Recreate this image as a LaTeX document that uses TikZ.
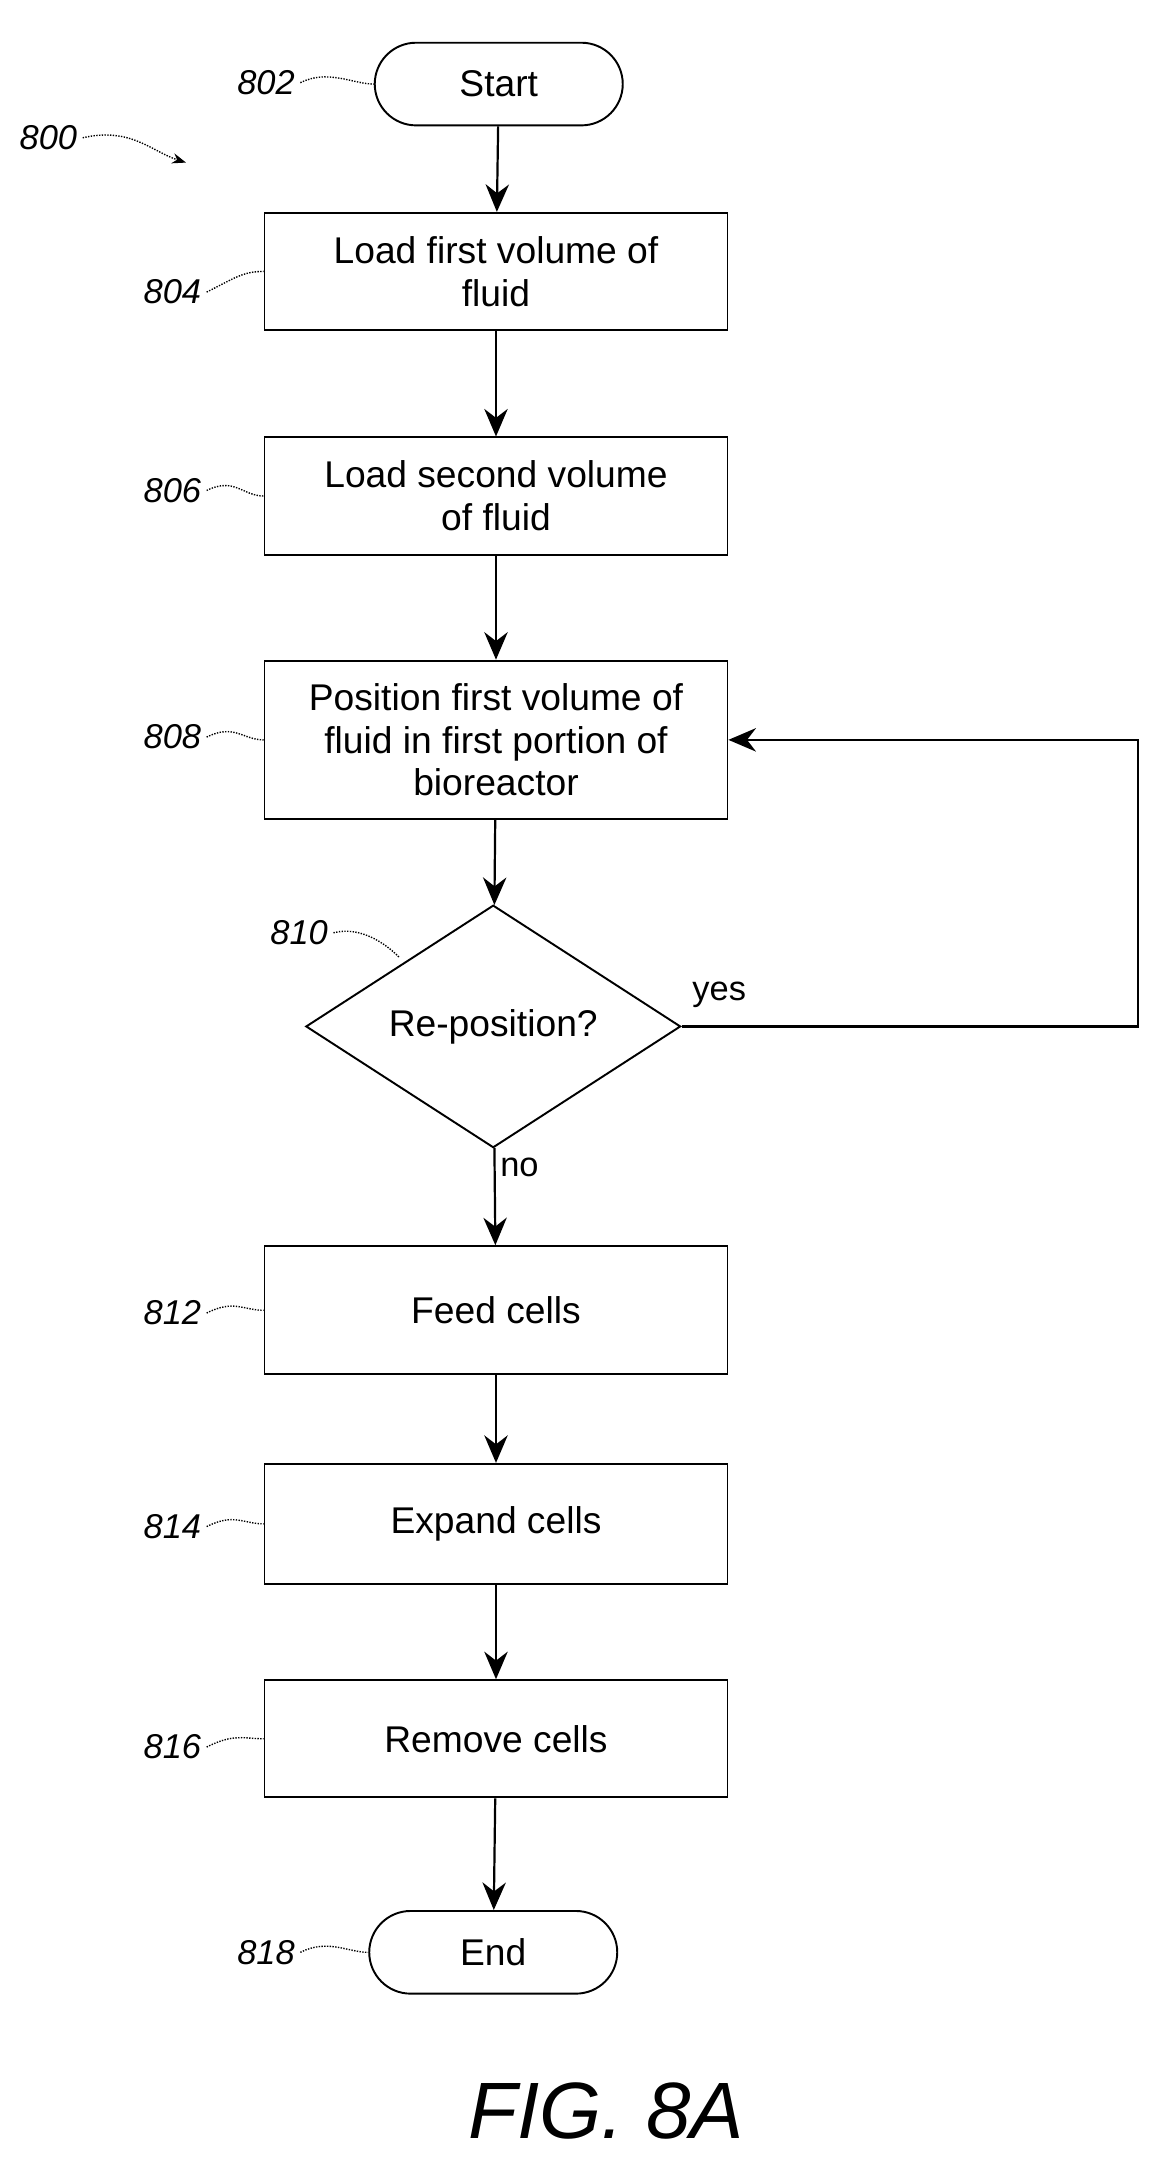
\documentclass[tikz,border=0pt]{standalone}
\usepackage{fontspec}
\setmainfont{Liberation Sans}
\usetikzlibrary{positioning, arrows.meta, shapes.geometric}

\begin{document}
\begin{tikzpicture}[
      x=1pt, y=-1pt,
      box/.style={
        rectangle,
        draw,
        minimum width=336pt,
        minimum height=85pt,
        align=center,
        font=\fontsize{27}{31}\selectfont
      },
      term/.style={
        rectangle,
        draw,
        rounded corners=30pt,
        minimum width=180pt,
        minimum height=60pt,
        font=\fontsize{27}{31}\selectfont
      },
      dec/.style={
        diamond,
        draw,
        aspect=1.55,
        inner sep=2pt,
        minimum width=272pt,
        minimum height=176pt,
        font=\fontsize{27}{31}\selectfont
      },
      ref/.style={font=\itshape\fontsize{25}{29}\selectfont},
      lead/.style={draw, densely dotted, line width=1pt},
      >={Stealth[length=20pt, width=17pt]},
      every edge/.style={draw, line width=1.6pt, ->},
      line width=1.4pt
    ]
    \useasboundingbox (0,0) rectangle (850,1583);

    % Nodes
    \node[term] (start) at (362,61) {Start};
    \node[box] (load1) at (360,197) {Load first volume of\\fluid};
    \node[box] (load2) at (360,360) {Load second volume\\of fluid};
    \node[box, minimum height=115pt] (pos) at (360,537) {Position first volume of\\fluid in first portion of\\bioreactor};
    \node[dec] (rep) at (358,745) {Re-position?};
    \node[box, minimum height=93pt] (feed) at (360,951) {Feed cells};
    \node[box, minimum height=87pt] (expand) at (360,1106) {Expand cells};
    \node[box] (remove) at (360,1262) {Remove cells};
    \node[term] (stop) at (358,1417) {End};
    \node[font=\itshape\fontsize{58}{64}\selectfont] (fig) at (440,1532) {FIG. 8A};

    % Reference numerals
    \node[ref, anchor=east] (r800) at (60,100) {800};
    \node[ref, anchor=east] (r802) at (218,60) {802};
    \node[ref, anchor=east] (r804) at (150,212) {804};
    \node[ref, anchor=east] (r806) at (150,356) {806};
    \node[ref, anchor=east] (r808) at (150,535) {808};
    \node[ref, anchor=east] (r810) at (242,677) {810};
    \node[ref, anchor=east] (r812) at (150,953) {812};
    \node[ref, anchor=east] (r814) at (150,1108) {814};
    \node[ref, anchor=east] (r816) at (150,1268) {816};
    \node[ref, anchor=east] (r818) at (218,1417) {818};
    \coordinate (c800) at (135,118);
    \draw[lead, -{Stealth[length=10pt]}] (r800.east) .. controls (95,92) and (110,110) .. (c800);
    \foreach \r/\n in {r802/start, r804/load1, r806/load2, r808/pos, r812/feed, r814/expand, r816/remove, r818/stop}
      \draw[lead] (\r.east) .. controls +(20,-10) and +(-15,0) .. (\n.west);
    \draw[lead] (r810.east) .. controls +(20,-5) and +(-10,-10) .. (290,695);

    % Arrows
    \path (start) edge (load1)
          (load1) edge (load2)
          (load2) edge (pos)
          (pos) edge (rep)
          (rep) edge node[right, font=\fontsize{25}{29}\selectfont, pos=0.2] {no} (feed)
          (feed) edge (expand)
          (expand) edge (remove)
          (remove) edge (stop);
    \draw[line width=1.6pt, ->] (rep.east) -- (826,745) -- (826,537) -- (pos.east);
    \node[font=\fontsize{25}{29}\selectfont] (yes) at (522,722) {yes};
  \end{tikzpicture}
\end{document}
